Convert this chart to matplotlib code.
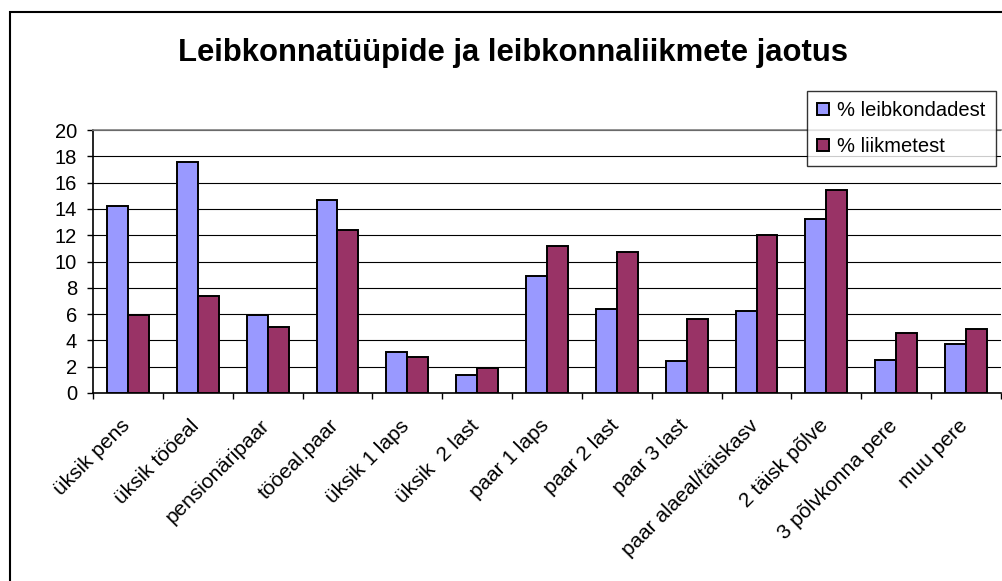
import numpy as np
import matplotlib
matplotlib.use("Agg")
import matplotlib.pyplot as plt
from matplotlib.patches import Rectangle
from matplotlib.transforms import ScaledTranslation

# Data
categories = ["üksik pens", "üksik tööeal", "pensionäripaar", "tööeal.paar",
              "üksik 1 laps", "üksik  2 last", "paar 1 laps", "paar 2 last",
              "paar 3 last", "paar alaeal/täiskasv", "2 täisk põlve",
              "3 põlvkonna pere", "muu pere"]
leibkondadest = [14.2, 17.6, 5.9, 14.7, 3.1, 1.35, 8.9, 6.4, 2.4, 6.2, 13.2, 2.5, 3.7]
liikmetest = [5.9, 7.4, 5.0, 12.4, 2.7, 1.9, 11.2, 10.7, 5.6, 12.0, 15.4, 4.6, 4.9]
series_names = ["% leibkondadest", "% liikmetest"]
y_ticks = list(range(0, 21, 2))

plt.rcParams['font.family'] = ['Liberation Sans', 'DejaVu Sans']

fig = plt.figure(figsize=(10.02, 5.81), dpi=100)
ax = fig.add_axes([93 / 1002, 1 - 393 / 581, 908 / 1002, 263 / 581])

x = np.arange(len(categories)) + 0.5
w = 0.3
ax.bar(x - w / 2, leibkondadest, w, color='#9999FF', edgecolor='black',
       linewidth=1.4, label=series_names[0], zorder=3)
ax.bar(x + w / 2, liikmetest, w, color='#993366', edgecolor='black',
       linewidth=1.4, label=series_names[1], zorder=3)

ax.set_xlim(0, len(categories))
ax.set_ylim(0, 20)
ax.set_yticks(y_ticks)
ax.set_yticklabels([str(t) for t in y_ticks])
ax.yaxis.grid(True, color='black', linewidth=0.8, zorder=0)
ax.set_axisbelow(True)

# category boundaries carry the ticks, labels sit at the centres
ax.set_xticks(np.arange(len(categories) + 1))
ax.set_xticklabels([])
ax.set_xticks(x, minor=True)
ax.set_xticklabels(categories, minor=True, rotation=45, ha='right', va='top',
                   rotation_mode='anchor', fontsize=15)
ax.tick_params(axis='x', which='minor', length=0, pad=8)
ax.tick_params(axis='x', which='major', length=4.5, width=1, color='black')
ax.tick_params(axis='y', length=4.5, width=1, pad=7, labelsize=14.5)
shift = ScaledTranslation(-8 / 100, -12 / 100, fig.dpi_scale_trans)
for lbl in ax.get_xticklabels(minor=True):
    lbl.set_transform(lbl.get_transform() + shift)

ax.spines['left'].set_linewidth(1.2)
ax.spines['bottom'].set_linewidth(1.2)
ax.spines['top'].set_color('#808080')
ax.spines['top'].set_linewidth(1.2)
ax.spines['right'].set_visible(False)

fig.text(513 / 1002, 1 - 53 / 581, "Leibkonnatüüpide ja leibkonnaliikmete jaotus",
         ha='center', va='center', fontsize=22.3, fontweight='bold')

leg = fig.legend(loc='upper left', bbox_to_anchor=(807 / 1002, 1 - 91 / 581),
                 fontsize=14.5, frameon=True, fancybox=False, shadow=False,
                 handlelength=0.6, handleheight=0.6, handletextpad=0.4,
                 labelspacing=0.85, borderpad=0.5, borderaxespad=0)
leg.get_frame().set_edgecolor('black')
leg.get_frame().set_linewidth(1.0)

# outer chart border (right and bottom edges fall outside the picture)
fig.patches.append(Rectangle((10 / 1002, -0.1), 1.2, 1.1 - 12 / 581,
                             transform=fig.transFigure, fill=False,
                             edgecolor='black', linewidth=1.5))

fig.savefig("out.png", dpi=100)
